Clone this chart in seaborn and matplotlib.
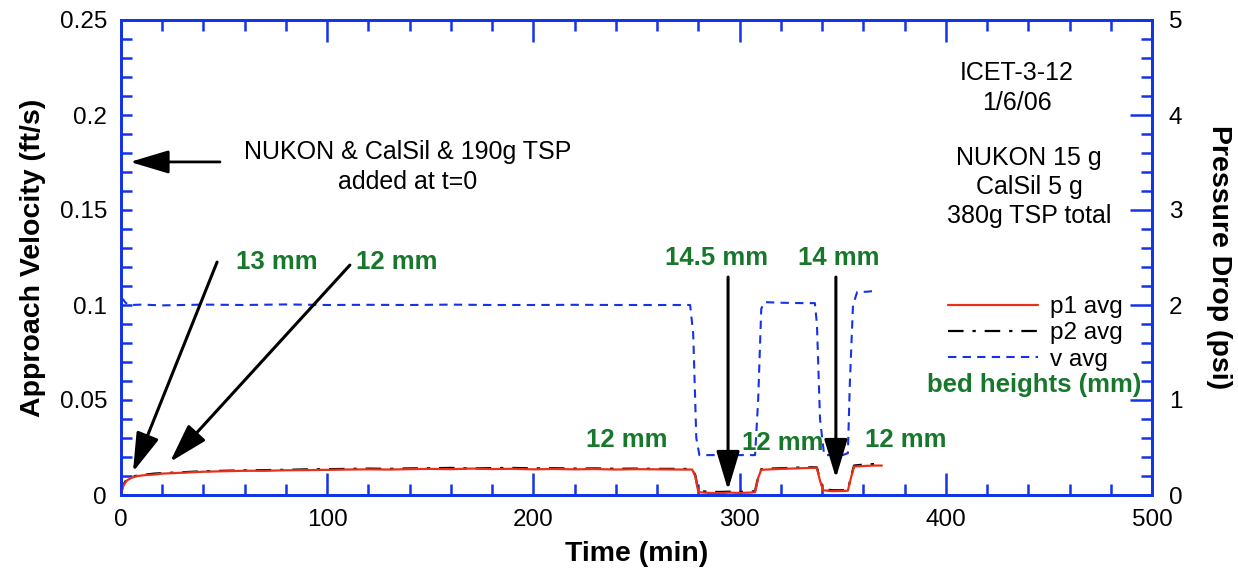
import matplotlib
matplotlib.use("Agg")
import matplotlib.pyplot as plt
import seaborn as sns
import pandas as pd
from matplotlib.ticker import MultipleLocator
from matplotlib.lines import Line2D

# ---------------- data ----------------
t_p = [0, 0.5, 1, 2, 3, 5, 8, 12, 16, 20,
       25, 30, 40, 50, 60, 70, 80, 90, 100, 110,
       120, 130, 140, 150, 160, 170, 180, 190, 200, 210, 220, 230, 240, 250, 260, 270,
       277, 278.5, 280, 285, 290, 295, 300, 305, 307.5, 309,
       310.5, 315, 320, 325, 330, 335, 337.5, 339, 340.5, 345,
       350, 352.5, 354, 355.5, 360, 365, 369]
p1_avg = [0, 0.05, 0.09, 0.13, 0.155, 0.18, 0.2, 0.21, 0.215, 0.225,
          0.23, 0.235, 0.245, 0.25, 0.255, 0.255, 0.26, 0.262, 0.265, 0.268,
          0.27, 0.268, 0.272, 0.275, 0.272, 0.278, 0.273, 0.276, 0.27, 0.274, 0.27, 0.273, 0.268, 0.272, 0.27, 0.268,
          0.268, 0.2, 0.03, 0.022, 0.02, 0.025, 0.022, 0.025, 0.03, 0.18,
          0.265, 0.27, 0.275, 0.278, 0.282, 0.285, 0.285, 0.15, 0.05, 0.04,
          0.042, 0.045, 0.18, 0.3, 0.305, 0.31, 0.31]
p2_avg = [0, 0.06, 0.1, 0.14, 0.165, 0.19, 0.205, 0.215, 0.225, 0.23,
          0.235, 0.24, 0.25, 0.255, 0.26, 0.262, 0.265, 0.27, 0.272, 0.275,
          0.278, 0.275, 0.28, 0.282, 0.285, 0.28, 0.283, 0.285, 0.28, 0.282, 0.278, 0.28, 0.276, 0.278, 0.275, 0.275,
          0.274, 0.21, 0.04, 0.035, 0.032, 0.035, 0.033, 0.035, 0.04, 0.19,
          0.272, 0.278, 0.282, 0.285, 0.29, 0.292, 0.29, 0.16, 0.06, 0.05,
          0.05, 0.055, 0.19, 0.31, 0.32, 0.325, 0.325]

t_v = [0, 1, 2, 3, 5, 10, 20, 30, 40, 60,
       80, 100, 120, 140, 160, 180, 200, 220, 240, 260,
       276, 277.5, 279, 280.5, 290, 300, 307.5, 309, 310.5, 312,
       320, 330, 336.5, 337.5, 339, 341, 345, 350, 352.5, 353.5,
       355, 357, 362, 366]
v_avg = [0.1025, 0.103, 0.1015, 0.1005, 0.1, 0.1002, 0.0998, 0.1, 0.1002, 0.1,
         0.1003, 0.1, 0.1001, 0.1, 0.1002, 0.1, 0.1, 0.1001, 0.1, 0.1,
         0.1, 0.085, 0.03, 0.021, 0.021, 0.021, 0.021, 0.05, 0.098, 0.1015,
         0.1012, 0.101, 0.101, 0.09, 0.04, 0.021, 0.021, 0.021, 0.022, 0.06,
         0.1, 0.1068, 0.107, 0.1075]

x_ticks = [0, 100, 200, 300, 400, 500]
y_left_ticks = [0, 0.05, 0.1, 0.15, 0.2, 0.25]
y_left_labels = ["0", "0.05", "0.1", "0.15", "0.2", "0.25"]
y_right_ticks = [0, 1, 2, 3, 4, 5]

# bed height annotations (positions in min / ft/s)
bed_labels = ["13 mm", "12 mm", "14.5 mm", "14 mm", "12 mm", "12 mm", "12 mm"]
bed_text_t = [75.7, 133.9, 288.6, 348.2, 245.4, 321.0, 380.7]
bed_text_v = [0.1226, 0.1226, 0.1247, 0.1247, 0.0290, 0.0274, 0.0290]
arrow_from = [(46.6, 0.1226), (111.0, 0.1210), (294.4, 0.1147), (346.7, 0.1147)]
arrow_to = [(5.8, 0.0121), (23.8, 0.0174), (294.4, 0.0026), (346.7, 0.0089)]

# ---------------- style ----------------
sns.set_style("ticks")
plt.rcParams["font.family"] = ["Liberation Sans", "DejaVu Sans"]
plt.rcParams["text.color"] = "black"
plt.rcParams["axes.labelcolor"] = "black"

BLUE = "#1433e6"
GREEN = "#17782c"
RED = "#e8301a"
FS_TICK = 17.5
FS_TEXT = 18
FS_LABEL = 20.5
FS_GREEN = 18.5

W, H = 1238, 569
fig = plt.figure(figsize=(W / 100, H / 100), dpi=100)
L, R, T, B = 121, 1152, 20, 495
ax = fig.add_axes([L / W, 1 - B / H, (R - L) / W, (B - T) / H])
ax2 = ax.twinx()

df_v = pd.DataFrame({"t": t_v, "v": v_avg})
df_p = pd.DataFrame({"t": t_p, "p1": p1_avg, "p2": p2_avg})

V_STYLE = (0, (4, 3))
P2_STYLE = (0, (7, 4, 1.5, 4))
sns.lineplot(data=df_v, x="t", y="v", ax=ax, color=BLUE, lw=1.5,
             linestyle=V_STYLE, sort=False)
sns.lineplot(data=df_p, x="t", y="p2", ax=ax2, color="black", lw=1.6,
             linestyle=P2_STYLE, sort=False)
sns.lineplot(data=df_p, x="t", y="p1", ax=ax2, color=RED, lw=1.6, sort=False)

ax.set_xlim(0, 500)
ax.set_ylim(0, 0.25)
ax2.set_ylim(0, 5)

ax.set_xticks(x_ticks)
ax.set_xticklabels([str(x) for x in x_ticks])
ax.xaxis.set_minor_locator(MultipleLocator(20))
ax.set_yticks(y_left_ticks)
ax.set_yticklabels(y_left_labels)
ax.yaxis.set_minor_locator(MultipleLocator(0.01))
ax2.set_yticks(y_right_ticks)
ax2.set_yticklabels([str(y) for y in y_right_ticks])
ax2.yaxis.set_minor_locator(MultipleLocator(0.2))

for a in (ax, ax2):
    for s in a.spines.values():
        s.set_color(BLUE)
        s.set_linewidth(2)
    a.tick_params(which="both", direction="in", color=BLUE, width=1.8,
                  labelsize=FS_TICK, labelcolor="black")
    a.tick_params(which="major", length=16)
    a.tick_params(which="minor", length=8)

ax.tick_params(axis="x", which="both", top=True, bottom=True, pad=10)
ax.tick_params(axis="y", which="both", left=True, right=False, pad=10, length=8)
ax2.tick_params(axis="y", which="both", right=True, left=False, pad=12)

ax.set_xlabel("Time (min)", fontsize=FS_LABEL, fontweight="bold", labelpad=7)
ax.set_ylabel("Approach Velocity (ft/s)", fontsize=FS_LABEL, fontweight="bold", labelpad=10)
ax2.set_ylabel("Pressure Drop (psi)", fontsize=FS_LABEL, fontweight="bold",
               rotation=-90, labelpad=36)

# ---------------- annotations ----------------
tr = ax.transData
head = "-|>,head_length=1.0,head_width=0.3"
for (x0, y0), (x1, y1) in zip(arrow_from, arrow_to):
    ax2.annotate("", xy=(x1, y1), xycoords=tr, xytext=(x0, y0), textcoords=tr,
                 arrowprops=dict(arrowstyle=head, mutation_scale=24, lw=2.2,
                                 color="black", shrinkA=0, shrinkB=0))
for lab, xt, yt in zip(bed_labels, bed_text_t, bed_text_v):
    ax2.text(xt, yt, lab, transform=tr, ha="center", va="center",
             fontsize=FS_GREEN, fontweight="bold", color=GREEN)

ax2.annotate("", xy=(4.4, 0.1753), xycoords=tr, xytext=(48, 0.1753), textcoords=tr,
             arrowprops=dict(arrowstyle=head, mutation_scale=24, lw=2.0,
                             color="black", shrinkA=0, shrinkB=0))
ax2.text(139.2, 0.1726, "NUKON & CalSil & 190g TSP\nadded at t=0", transform=tr,
         ha="center", va="center", fontsize=FS_TEXT, linespacing=1.3)
ax2.text(434.5, 0.2142, "ICET-3-12\n1/6/06", transform=tr,
         ha="center", va="center", fontsize=FS_TEXT, linespacing=1.3)
ax2.text(440.5, 0.1621, "NUKON 15 g\nCalSil 5 g\n380g TSP total", transform=tr,
         ha="center", va="center", fontsize=FS_TEXT, linespacing=1.25)

# ---------------- legend ----------------
handles = [Line2D([], [], color=RED, lw=1.6),
           Line2D([], [], color="black", lw=1.6, linestyle=P2_STYLE),
           Line2D([], [], color=BLUE, lw=1.5, linestyle=V_STYLE)]
leg = ax2.legend(handles, ["p1 avg", "p2 avg", "v avg"], loc="upper left",
                 bbox_to_anchor=(948 / W, 1 - 296 / H), bbox_transform=fig.transFigure,
                 frameon=False, fontsize=17.5, handlelength=3.7, handletextpad=0.5,
                 labelspacing=0.18, borderpad=0, borderaxespad=0)
ax2.text(495, 0.0579, "bed heights (mm)", transform=tr, ha="right", va="center",
         fontsize=FS_GREEN, fontweight="bold", color=GREEN)

fig.savefig("out.png", dpi=100)
